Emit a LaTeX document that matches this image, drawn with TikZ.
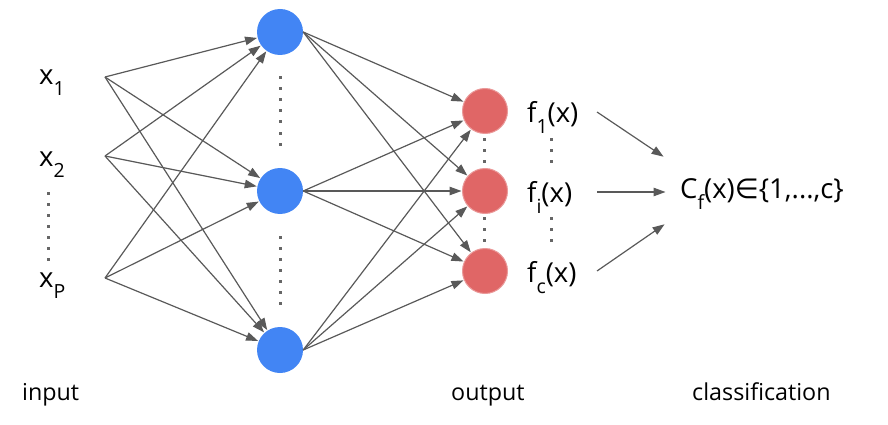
\documentclass[tikz,border=0pt]{standalone}
\usepackage{fontspec}
\setmainfont{Open Sans}
\newfontfamily\djv{DejaVu Sans}
\usetikzlibrary{arrows.meta}
\definecolor{hblue}{HTML}{4285F4}
\definecolor{ored}{HTML}{E06666}
\definecolor{oredline}{HTML}{EA9999}
\definecolor{arrgray}{HTML}{595959}
\definecolor{dotgray}{HTML}{666666}
\newcommand{\lowsub}[1]{\raisebox{-11pt}{\fontsize{19.5}{19.5}\selectfont #1}}
\tikzset{
  hidden/.style={circle, fill=hblue, minimum size=46pt, inner sep=0pt},
  outnode/.style={circle, fill=ored, draw=oredline, line width=1pt, minimum size=45pt, inner sep=0pt},
  arr/.style={draw=arrgray, line width=1.2pt, -{Triangle[length=12pt,width=8.5pt]}, shorten >=0.5pt},
  lbl/.style={font=\fontsize{27.5}{27.5}\selectfont, inner sep=0pt, anchor=base west, text=black},
  captext/.style={font=\fontsize{23.3}{23.3}\selectfont, inner sep=0pt, anchor=base west, text=black},
  dot/.style={fill=dotgray, minimum size=3pt, inner sep=0pt},
}
\begin{document}
\begin{tikzpicture}[x=1pt, y=-1pt]
\useasboundingbox (0,0) rectangle (888,425);
% labels
\node[lbl] (x1) at (39,85) {x\lowsub{1}};
\node[lbl] (x2) at (39,166) {x\lowsub{2}};
\node[lbl] (xp) at (39,287) {x\lowsub{P}};
\node[lbl] (f1) at (527,123) {f\lowsub{1}(x)};
\node[lbl] (fi) at (527,202) {f\lowsub{i}(x)};
\node[lbl] (fc) at (527,282) {f\lowsub{c}(x)};
\node[lbl] (cl) at (680,198) {C\lowsub{f}(x){\djv ∈}\{1,...,c\}};
\node[captext] (tin) at (22,400) {input};
\node[captext] (tout) at (451,400) {output};
\node[captext] (tcls) at (692,400) {classification};
% nodes
\node[hidden] (h1) at (280,32) {};
\node[hidden] (h2) at (280,191) {};
\node[hidden] (h3) at (280,350) {};
\node[outnode] (o1) at (485,111) {};
\node[outnode] (o2) at (485,191) {};
\node[outnode] (o3) at (485,271) {};
% input points
\coordinate (i1) at (105,77);
\coordinate (i2) at (105,156);
\coordinate (i3) at (105,278);
\foreach \i in {i1,i2,i3}{
  \foreach \h in {h1,h2,h3}{
    \draw[arr] (\i) -- (\h);
  }
}
\foreach \h in {h1,h2,h3}{
  \foreach \o in {o1,o2,o3}{
    \draw[arr] (\h.east) -- (\o);
  }
}
% to classification
\coordinate (s1) at (597,112);
\coordinate (e1) at (664,157);
\coordinate (s2) at (597,192);
\coordinate (e2) at (666,192);
\coordinate (s3) at (597,271);
\coordinate (e3) at (665,224);
\draw[arr] (s1) -- (e1);
\draw[arr] (s2) -- (e2);
\draw[arr] (s3) -- (e3);
% dots
\foreach \y in {78,89,100,111,122,133,144}{\node[dot] at (280,\y) {};}
\foreach \y in {237,248,259,270,281,292,303}{\node[dot] at (280,\y) {};}
\foreach \y in {193,204,215,226,237,248,259}{\node[dot] at (48,\y) {};}
\foreach \y in {139,150,161,218,229,240}{\node[dot] at (484,\y) {}; \node[dot] at (551,\y) {};}
\end{tikzpicture}
\end{document}
